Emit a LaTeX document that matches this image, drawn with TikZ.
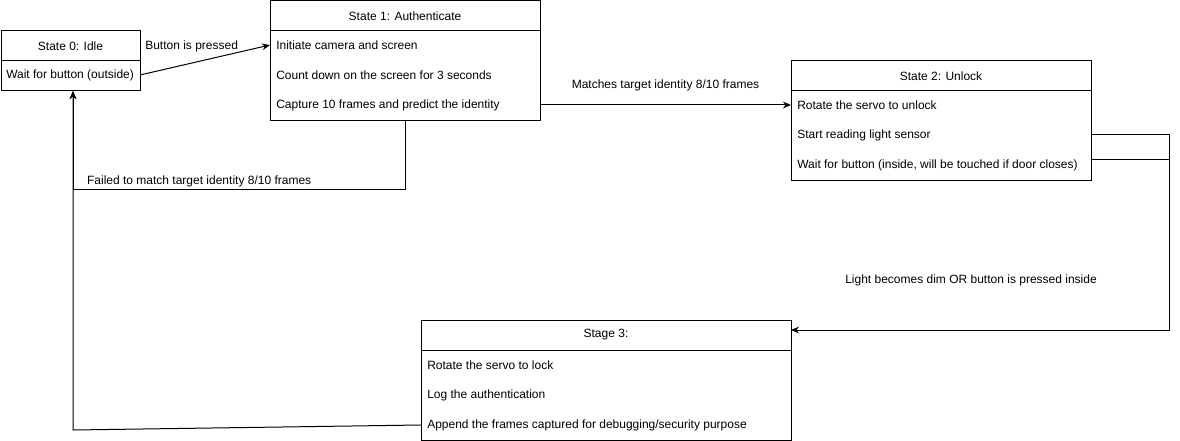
\documentclass[tikz,border=0pt]{standalone}
\usepackage{fontspec}
\setmainfont{Liberation Sans}
\usetikzlibrary{positioning,arrows.meta}
\begin{document}
\begin{tikzpicture}
        [
            x=0.75pt, y=-0.75pt,
            every node/.style={font=\fontsize{9}{11}\selectfont},
            head/.style={rectangle, draw=black, line width=0.75pt, anchor=north west, minimum height=22.5pt, inner sep=0pt, outer sep=0pt},
            body/.style={rectangle, draw=black, line width=0.75pt, anchor=north west, inner sep=0pt, outer sep=0pt},
            row/.style={anchor=west, inner sep=0pt},
            link/.style={-{Stealth[length=6pt, width=5pt]}, line width=0.75pt}
        ]
        \useasboundingbox (0,0) rectangle (1180,441);
        % State 0
        \node[head, minimum width=104.25pt] (s0) at (1,31) {State 0: Idle};
        \node[body, minimum width=104.25pt, minimum height=22.5pt] (s0body) at (s0.south west) {};
        \node[row] (s0r1) at (6,75) {Wait for button (outside)};
        % State 1
        \node[head, minimum width=202.5pt] (s1) at (270,1) {State 1: Authenticate};
        \node[body, minimum width=202.5pt, minimum height=67.5pt] (s1body) at (s1.south west) {};
        \node[row] (s1r1) at (276,45) {Initiate camera and screen};
        \node[row] (s1r2) at (276,75) {Count down on the screen for 3 seconds};
        \node[row] (s1r3) at (276,105) {Capture 10 frames and predict the identity};
        % State 2
        \node[head, minimum width=225pt] (s2) at (791,61) {State 2: Unlock};
        \node[body, minimum width=225pt, minimum height=67.5pt] (s2body) at (s2.south west) {};
        \node[row] (s2r1) at (797,105) {Rotate the servo to unlock};
        \node[row] (s2r2) at (797,135) {Start reading light sensor};
        \node[row] (s2r3) at (797,165) {Wait for button (inside, will be touched if door closes)};
        % Stage 3
        \node[head, minimum width=277.5pt] (s3) at (421,320) {Stage 3:};
        \node[body, minimum width=277.5pt, minimum height=67.5pt] (s3body) at (s3.south west) {};
        \node[row] (s3r1) at (427,365) {Rotate the servo to lock};
        \node[row] (s3r2) at (427,395) {Log the authentication};
        \node[row] (s3r3) at (427,425) {Append the frames captured for debugging/security purpose};
        % transitions
        \draw[link] (s0r1 -| s0body.east) -- (s1r1 -| s1body.west);
        \node[anchor=west, inner sep=0pt] (l1) at (145,46) {Button is pressed};
        \draw[link] (s1r3 -| s1body.east) -- node[midway, yshift=15pt] {Matches target identity 8/10 frames} (s2r1 -| s2body.west);
        \coordinate (f1) at (73,190);
        \draw[link] (s1body.south) |- node[pos=0.81, yshift=6.75pt] {Failed to match target identity 8/10 frames} (f1) -- (f1 |- s0body.south);
        \coordinate (r1) at (1169,330);
        \draw[line width=0.75pt] ([yshift=3.75pt]s2r3 -| s2body.east) -| (r1);
        \draw[link] (s2r2 -| s2body.east) -| (r1) -- (r1 -| s3.east);
        \node (l5) at (971,280) {Light becomes dim OR button is pressed inside};
        \coordinate (b1) at (73,430);
        \draw[link] (s3r3 -| s3body.west) -- (b1) -- (b1 |- s0body.south);
\end{tikzpicture}
\end{document}
